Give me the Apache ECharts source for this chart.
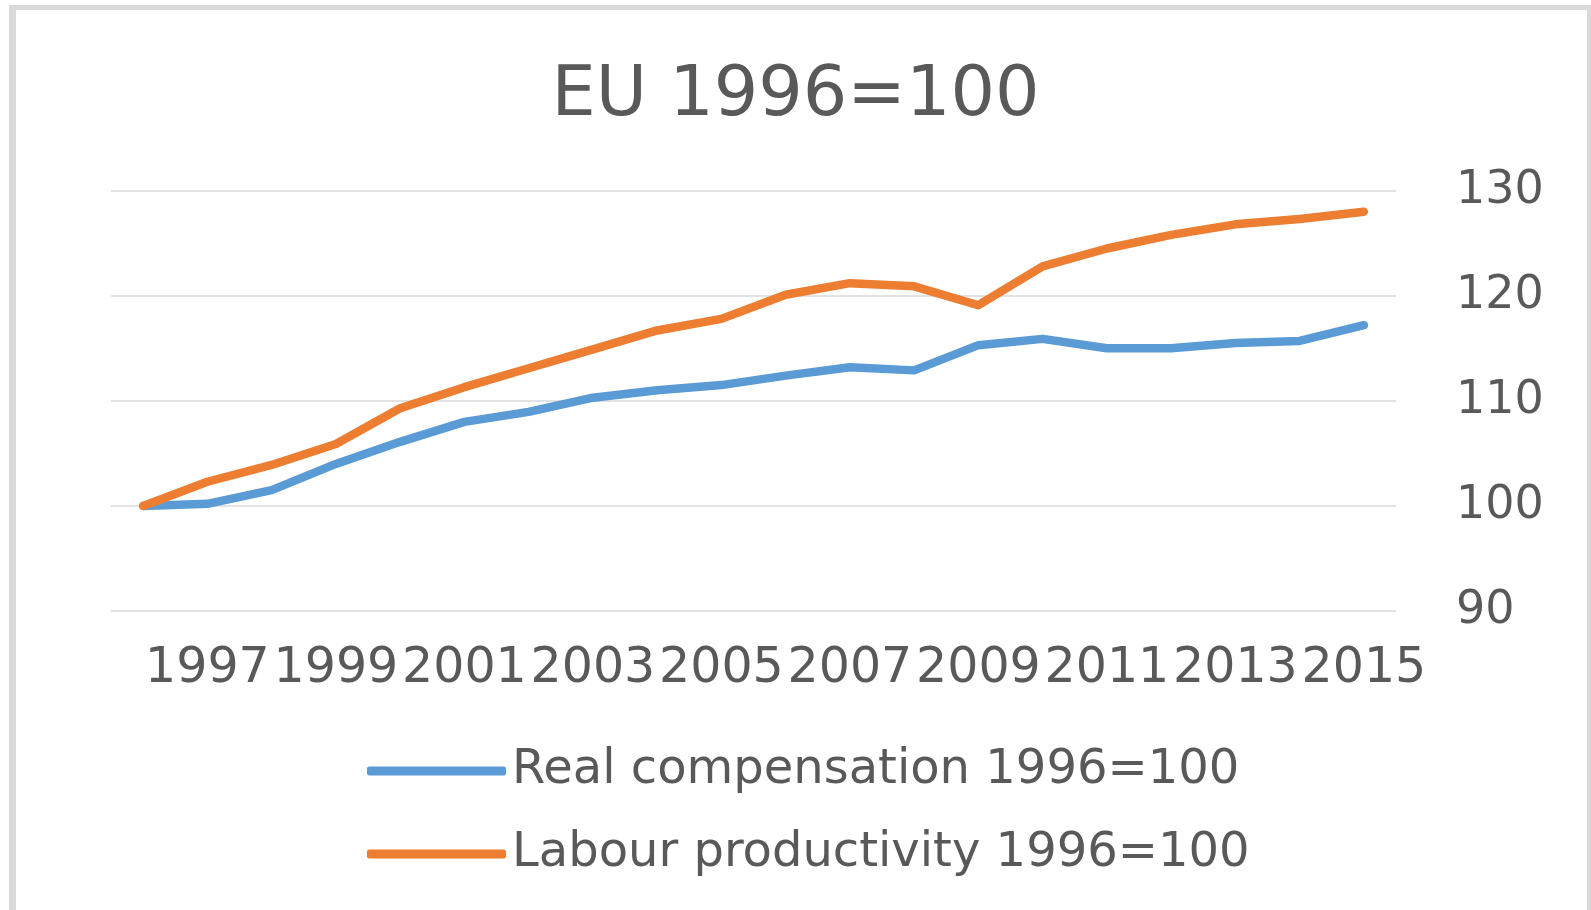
<!DOCTYPE html>
<html>
<head>
<meta charset="utf-8">
<script src="https://cdn.jsdelivr.net/npm/echarts@6/dist/echarts.min.js"></script>
<style>
  html, body { margin: 0; padding: 0; background: #ffffff; }
  #frame { position: absolute; left: 9px; top: 5px; width: 1571px; height: 940px;
           border-left: 7px solid #D9D9D9; border-top: 5px solid #D9D9D9; border-right: 5px solid #D9D9D9; }
  #chart { position: absolute; left: 0; top: 0; width: 1591px; height: 910px; }
</style>
</head>
<body>
<div id="frame"></div>
<div id="chart"></div>
<script>
const titleText = 'EU 1996=100';
const years = ['1996','1997','1998','1999','2000','2001','2002','2003','2004','2005',
               '2006','2007','2008','2009','2010','2011','2012','2013','2014','2015'];
const compName = 'Real compensation 1996=100';
const prodName = 'Labour productivity 1996=100';
const realCompensation = [100, 100.2, 101.5, 104.0, 106.1, 108.0, 108.95, 110.3, 111.0, 111.5,
                          112.4, 113.2, 112.9, 115.3, 115.9, 115.0, 115.0, 115.5, 115.7, 117.2];
const labourProductivity = [100, 102.3, 103.9, 105.9, 109.3, 111.3, 113.1, 114.9, 116.7, 117.8,
                            120.1, 121.2, 120.9, 119.1, 122.8, 124.5, 125.8, 126.8, 127.3, 128.0];
const yMin = 90, yMax = 130, yStep = 10;

const chart = echarts.init(document.getElementById('chart'), null, { renderer: 'canvas' });
const txt = '#595959';
chart.setOption({
  backgroundColor: 'transparent',
  animation: false,
  title: {
    text: titleText,
    left: 'center',
    top: 56,
    textStyle: { fontFamily: 'DejaVu Sans', fontSize: 70, fontWeight: 'normal', color: txt, lineHeight: 72 }
  },
  legend: {
    orient: 'vertical',
    left: 362,
    top: 741,
    itemWidth: 139,
    itemHeight: 9,
    itemGap: 33,
    textStyle: { fontFamily: 'DejaVu Sans', fontSize: 48, color: txt, lineHeight: 50, padding: [0, 0, 0, 1] },
    data: [
      { name: compName, icon: 'roundRect' },
      { name: prodName, icon: 'roundRect' }
    ]
  },
  grid: { left: 111, right: 195, top: 190.7, bottom: 299, containLabel: false },
  xAxis: {
    type: 'category',
    data: years,
    boundaryGap: true,
    axisLine: { show: false },
    axisTick: { show: false },
    axisLabel: {
      interval: function (i) { return i % 2 === 1; },
      fontFamily: 'DejaVu Sans', fontSize: 49, color: txt, margin: 34
    }
  },
  yAxis: {
    type: 'value',
    position: 'right',
    min: yMin, max: yMax, interval: yStep,
    axisLine: { show: false },
    axisTick: { show: false },
    splitLine: { lineStyle: { color: '#D9D9D9', width: 1.5 } },
    axisLabel: { fontFamily: 'DejaVu Sans', fontSize: 46, color: txt, margin: 60 }
  },
  series: [
    {
      name: compName, type: 'line', data: realCompensation,
      showSymbol: false, symbol: 'none',
      itemStyle: { color: '#5B9BD5' },
      lineStyle: { color: '#5B9BD5', width: 8.5, cap: 'round', join: 'round' }
    },
    {
      name: prodName, type: 'line', data: labourProductivity,
      showSymbol: false, symbol: 'none',
      itemStyle: { color: '#ED7D31' },
      lineStyle: { color: '#ED7D31', width: 8.5, cap: 'round', join: 'round' }
    }
  ]
});
</script>
</body>
</html>
